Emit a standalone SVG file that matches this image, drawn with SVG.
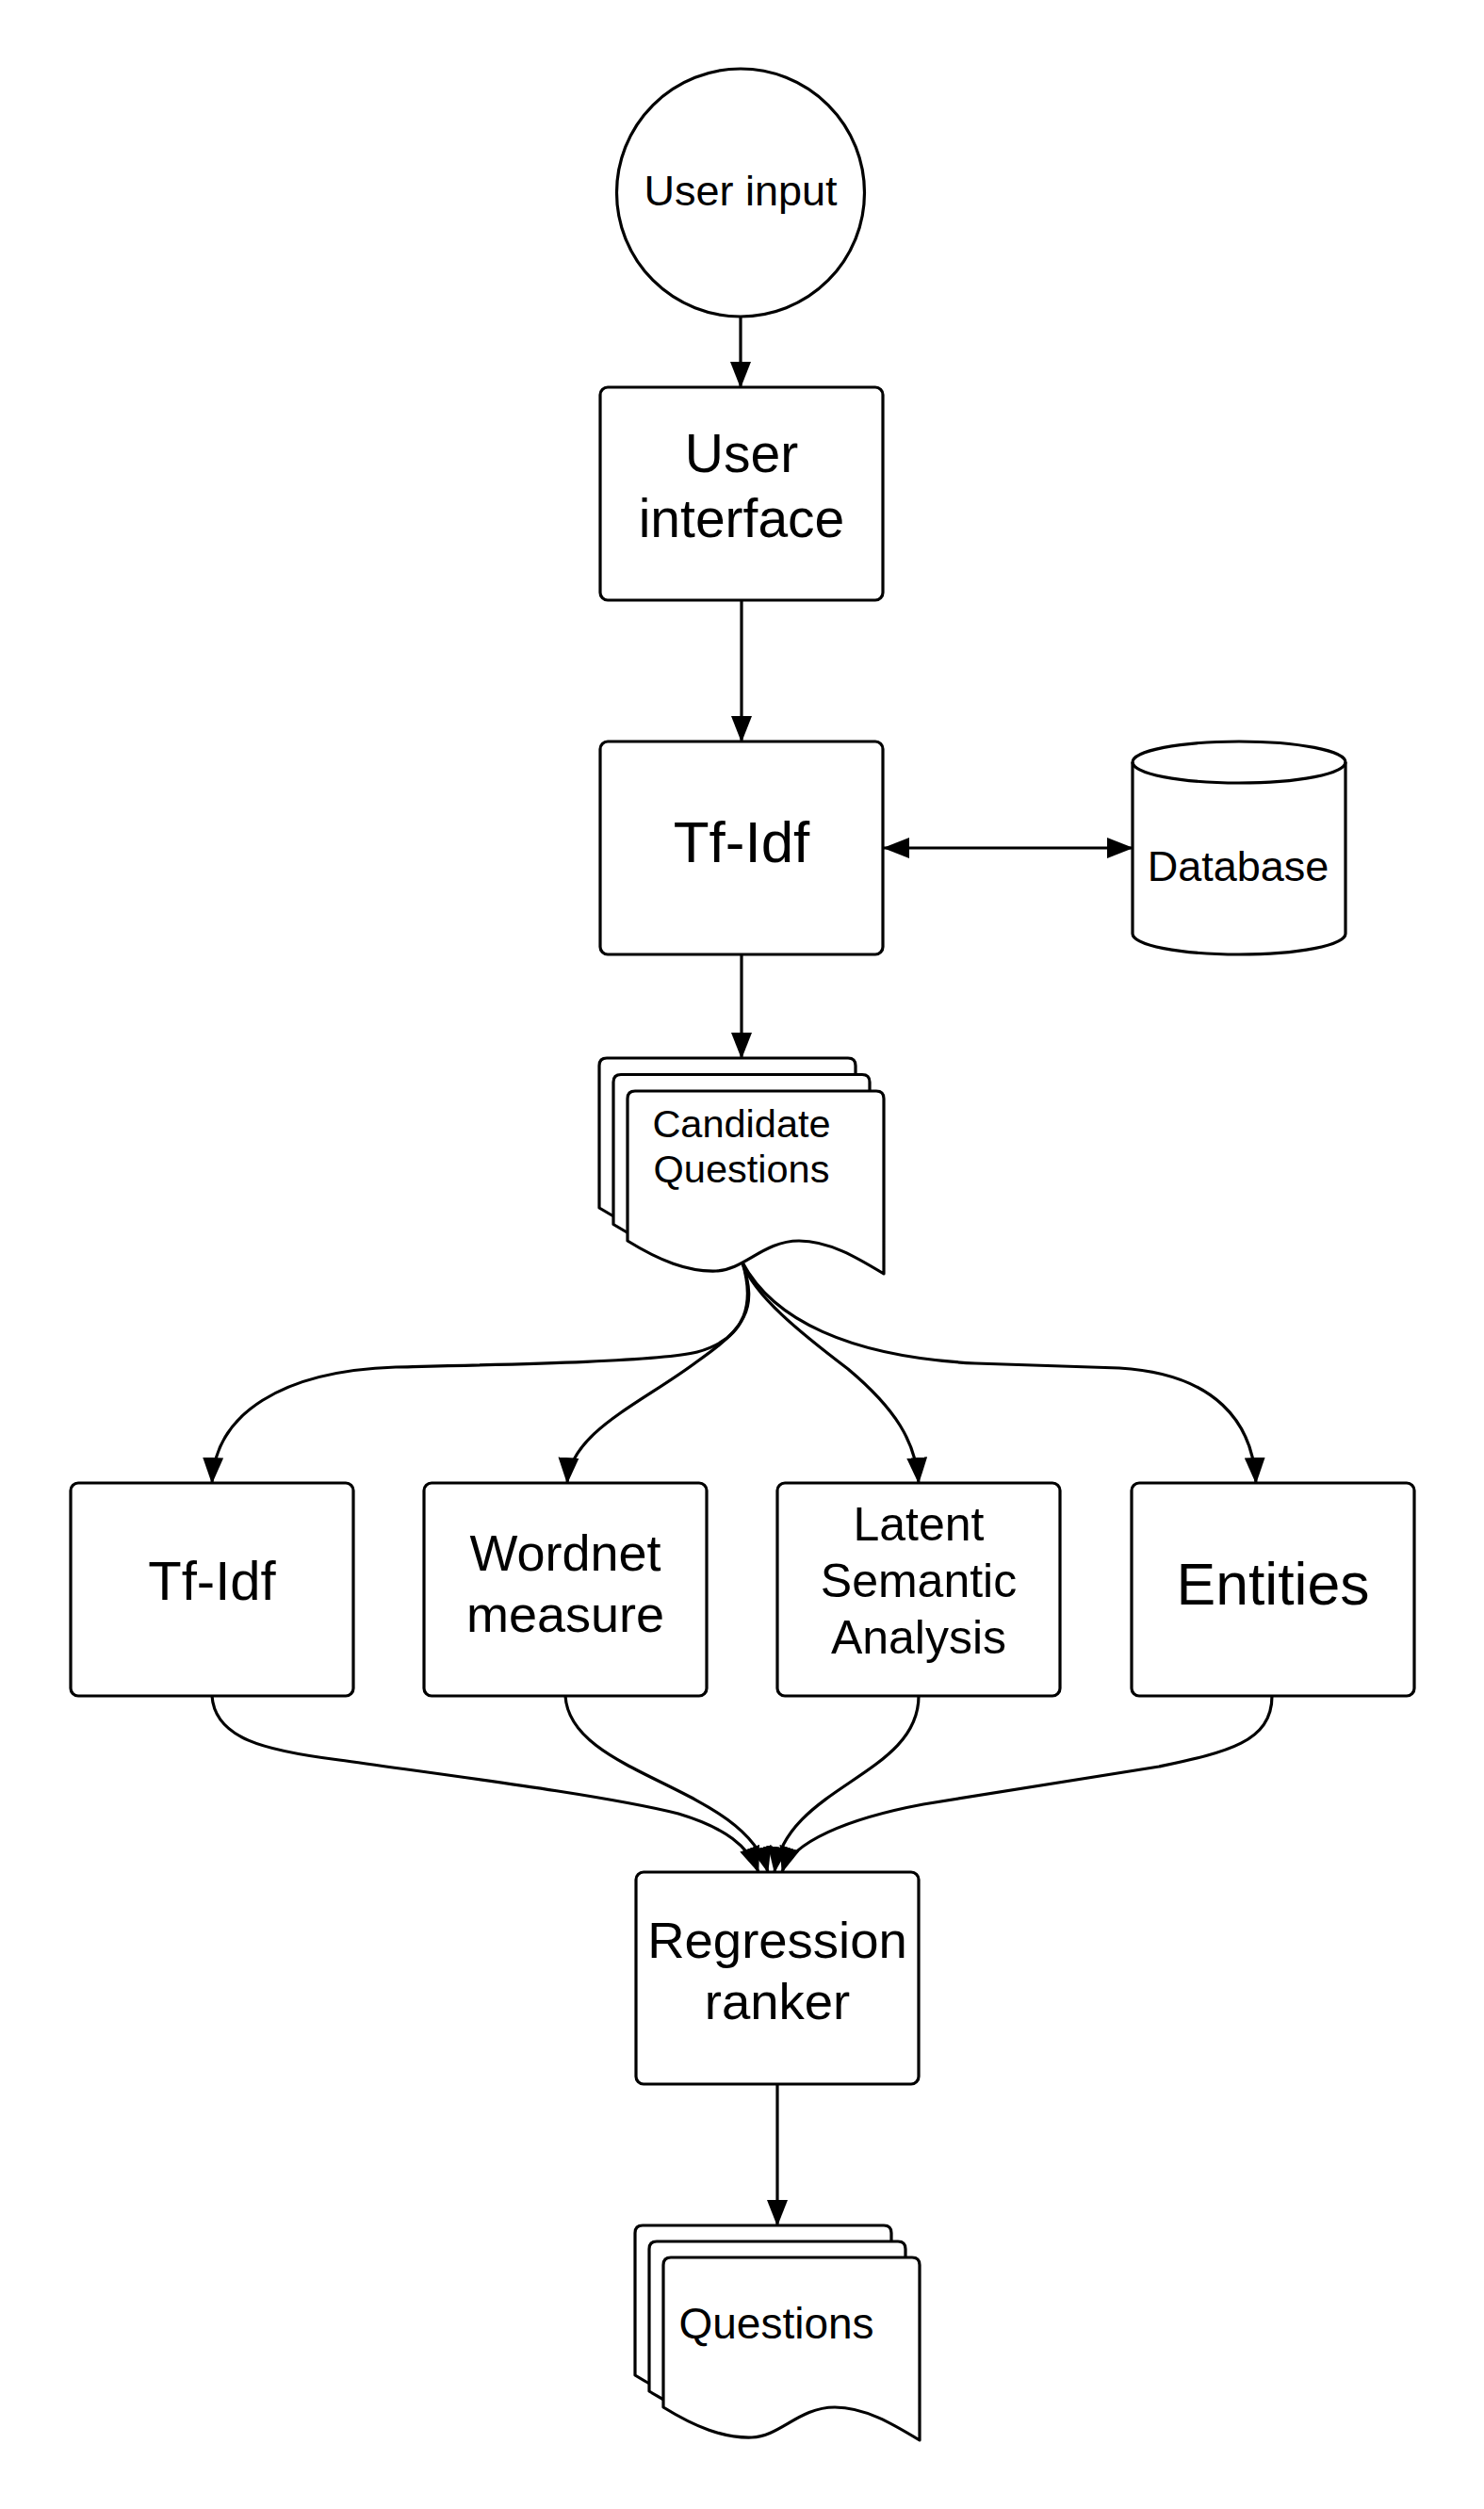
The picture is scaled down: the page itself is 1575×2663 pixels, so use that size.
<svg xmlns="http://www.w3.org/2000/svg" xmlns:xlink="http://www.w3.org/1999/xlink" width="1575" height="2663" viewBox="0 0 1575 2663">
<style>
.shape{fill:#fff;stroke:#000;stroke-width:3.2;stroke-linejoin:round}
.conn{fill:none;stroke:#000;stroke-width:3.2}
.lbl{font-family:"Liberation Sans",Arial,Helvetica,sans-serif;fill:#000;text-anchor:middle}
</style>
<defs>
<marker id="ah" markerUnits="userSpaceOnUse" markerWidth="28" markerHeight="22" refX="27" refY="11" orient="auto-start-reverse" viewBox="0 0 28 22">
<path d="M0,0 L28,11 L0,22 Z" fill="#000"/>
</marker>
<path id="doc" d="M0,159 L0,8 Q0,0 8,0 L264,0 Q272,0 272,8 L272,194 C244,177 214,159 182,159 C144,159 124,190 94,191 C64,192 34,180 0,159 Z"/>
</defs>
<rect width="1575" height="2663" fill="#fff"/>

<g id="connectors">
<path class="conn" d="M786,336 L786,411" marker-end="url(#ah)"/>
<path class="conn" d="M787,637 L787,787" marker-end="url(#ah)"/>
<path class="conn" d="M938,900 L1202,900" marker-start="url(#ah)" marker-end="url(#ah)"/>
<path class="conn" d="M787,1013 L787,1123" marker-end="url(#ah)"/>
<path class="conn" d="M788,1340 C800,1380 795,1420 740,1435 C700,1445 550,1448 420,1451 C300,1455 228,1500 225,1574" marker-end="url(#ah)"/>
<path class="conn" d="M788,1340 C805,1390 790,1410 740,1445 C680,1490 605,1520 602,1574" marker-end="url(#ah)"/>
<path class="conn" d="M788,1340 C800,1375 850,1415 900,1453 C950,1495 972,1530 975,1574" marker-end="url(#ah)"/>
<path class="conn" d="M788,1340 C820,1400 900,1440 1035,1447 L1188,1452 C1290,1458 1330,1510 1333,1574" marker-end="url(#ah)"/>
<path class="conn" d="M225,1800 C228,1845 280,1858 360,1868 C480,1885 640,1905 720,1925 C770,1940 795,1960 805,1987" marker-end="url(#ah)"/>
<path class="conn" d="M600,1800 C605,1885 790,1895 815,1987" marker-end="url(#ah)"/>
<path class="conn" d="M975,1800 C975,1885 835,1895 822,1987" marker-end="url(#ah)"/>
<path class="conn" d="M1350,1800 C1350,1850 1300,1860 1230,1875 L980,1915 C900,1930 840,1955 830,1987" marker-end="url(#ah)"/>
<path class="conn" d="M825,2212 L825,2362" marker-end="url(#ah)"/>
</g>

<g id="user-input">
<circle class="shape" cx="786" cy="204.5" r="131.5"/>
<text class="lbl" x="786" y="218" font-size="45">User input</text>
</g>

<g id="user-interface">
<rect class="shape" x="637" y="411" width="300" height="226" rx="8"/>
<text class="lbl" x="787" y="501" font-size="57">User</text>
<text class="lbl" x="787" y="570" font-size="57">interface</text>
</g>

<g id="tfidf-main">
<rect class="shape" x="637" y="787" width="300" height="226" rx="8"/>
<text class="lbl" x="787" y="915" font-size="62">Tf-Idf</text>
</g>

<g id="database">
<path class="shape" d="M1202,809 A113,22 0 0 1 1428,809 L1428,991 A113,22 0 0 1 1202,991 Z"/>
<path class="conn" d="M1202,809 A113,22 0 0 0 1428,809"/>
<text class="lbl" x="1314" y="935" font-size="45">Database</text>
</g>

<g id="candidate-questions">
<use xlink:href="#doc" href="#doc" class="shape" transform="translate(636,1123)"/>
<use xlink:href="#doc" href="#doc" class="shape" transform="translate(651,1140.5)"/>
<use xlink:href="#doc" href="#doc" class="shape" transform="translate(666,1158)"/>
<text class="lbl" x="787" y="1207" font-size="41.5">Candidate</text>
<text class="lbl" x="787" y="1255" font-size="41.5">Questions</text>
</g>

<g id="tfidf">
<rect class="shape" x="75" y="1574" width="300" height="226" rx="8"/>
<text class="lbl" x="225" y="1698" font-size="58">Tf-Idf</text>
</g>

<g id="wordnet">
<rect class="shape" x="450" y="1574" width="300" height="226" rx="8"/>
<text class="lbl" x="600" y="1667" font-size="54">Wordnet</text>
<text class="lbl" x="600" y="1732" font-size="54">measure</text>
</g>

<g id="lsa">
<rect class="shape" x="825" y="1574" width="300" height="226" rx="8"/>
<text class="lbl" x="975" y="1635" font-size="50">Latent</text>
<text class="lbl" x="975" y="1695" font-size="50">Semantic</text>
<text class="lbl" x="975" y="1755" font-size="50">Analysis</text>
</g>

<g id="entities">
<rect class="shape" x="1201" y="1574" width="300" height="226" rx="8"/>
<text class="lbl" x="1351" y="1703" font-size="62.5">Entities</text>
</g>

<g id="regression-ranker">
<rect class="shape" x="675" y="1987" width="300" height="225" rx="8"/>
<text class="lbl" x="825" y="2078" font-size="54.5">Regression</text>
<text class="lbl" x="825" y="2143" font-size="54.5">ranker</text>
</g>

<g id="questions">
<use xlink:href="#doc" href="#doc" class="shape" transform="translate(674,2362)"/>
<use xlink:href="#doc" href="#doc" class="shape" transform="translate(689,2379)"/>
<use xlink:href="#doc" href="#doc" class="shape" transform="translate(704,2396)"/>
<text class="lbl" x="824" y="2482" font-size="46">Questions</text>
</g>
</svg>
